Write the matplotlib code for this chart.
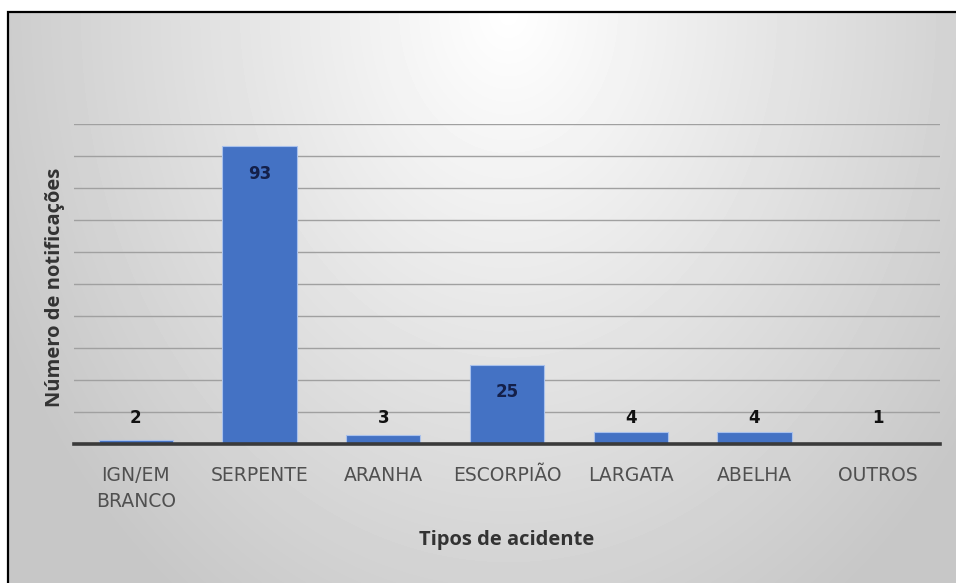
import numpy as np
import matplotlib
matplotlib.use("Agg")
import matplotlib.pyplot as plt
from matplotlib.patches import Rectangle

categories = ["IGN/EM\nBRANCO", "SERPENTE", "ARANHA", "ESCORPIÃO", "LARGATA", "ABELHA", "OUTROS"]
bar_values = [1.2, 93, 2.6, 24.7, 3.8, 3.8, 0.3]
labels = ["2", "93", "3", "25", "4", "4", "1"]

W, H = 956, 583
fig = plt.figure(figsize=(W / 100, H / 100), dpi=100)
fig.patch.set_facecolor("white")

# grey background, lighter near the top centre
bg = fig.add_axes([8 / W, 0, 1 - 8 / W, 1 - 12 / H])
yy, xx = np.mgrid[0:H - 12, 0:W - 8]
d = np.sqrt(((xx - 500) / 560.0) ** 2 + ((yy - 0) / 720.0) ** 2)
shade = 1 - 0.22 * np.clip(d, 0, 1)
bg.imshow(shade, cmap="gray", vmin=0, vmax=1, aspect="auto", interpolation="bilinear")
bg.axis("off")

# frame (only left and top visible)
fig.add_artist(Rectangle((7.5 / W, -0.1), 1.2, 1.1 - 12.5 / H, transform=fig.transFigure,
                         fill=False, edgecolor="black", linewidth=1.6))

ax = fig.add_axes([74 / W, 1 - 443.7 / H, 866 / W, (443.7 - 124) / H])
ax.set_facecolor("none")
x = np.arange(len(categories))
ax.bar(x, bar_values, width=0.6, color="#4472C4", edgecolor="#a9c1ec", linewidth=0.8, zorder=3)
ax.set_xlim(-0.5, len(categories) - 0.5)
ax.set_ylim(0, 100)
ax.set_yticks(np.arange(10, 101, 10))
ax.yaxis.grid(True, color="#a0a0a0", linewidth=1.0, zorder=1)
ax.tick_params(axis="y", left=False, labelleft=False)
for s in ["top", "right", "left"]:
    ax.spines[s].set_visible(False)
ax.spines["bottom"].set_color("#3a3a3a")
ax.spines["bottom"].set_linewidth(2.6)
ax.spines["bottom"].set_zorder(4)
ax.set_xticks(x)
ax.set_xticklabels(categories, fontsize=13.5, color="#505050", linespacing=1.5)
ax.tick_params(axis="x", length=0, pad=16)

for xi, v, lab in zip(x, bar_values, labels):
    if v > 10:
        ax.text(xi, v - 8.5, lab, ha="center", va="center", fontsize=12,
                fontweight="bold", color="#14204a", zorder=5)
    else:
        ax.text(xi, 8, lab, ha="center", va="center", fontsize=12,
                fontweight="bold", color="#111111", zorder=5)

fig.text(507 / W, 1 - 540 / H, "Tipos de acidente", ha="center", va="center",
         fontsize=14.5, fontweight="bold", color="#333333", family="Open Sans")
fig.text(55 / W, 1 - 287 / H, "Número de notificações", ha="center", va="center",
         rotation=90, fontsize=14.5, fontweight="bold", color="#333333", family="Open Sans")

fig.savefig("out.png", dpi=100)
